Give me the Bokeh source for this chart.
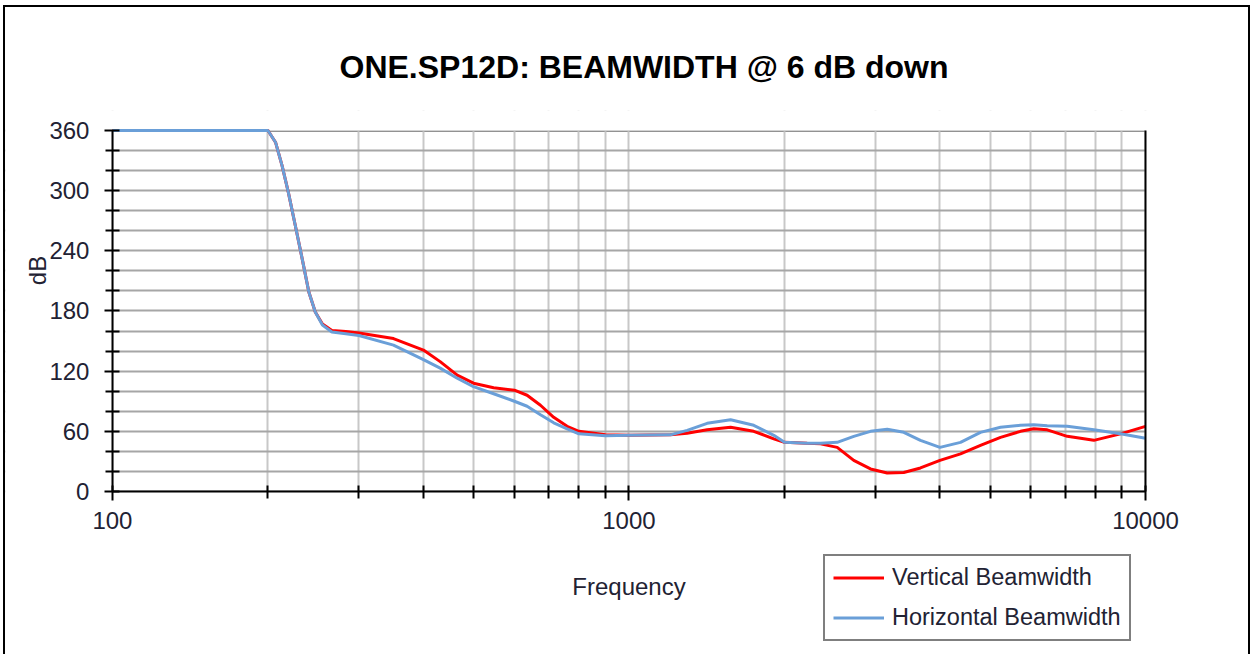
import math
from bokeh.plotting import figure
from bokeh.models import (Range1d, FixedTicker, NumeralTickFormatter, Legend,
                          LegendItem, LinearAxis, LogAxis, BoxAnnotation, Label)
from bokeh.embed import file_html
from bokeh.resources import INLINE

title_text = "ONE.SP12D: BEAMWIDTH @ 6 dB down"
x_label = "Frequency"
y_label = "dB"

freq = [100, 150, 200, 207, 213, 219, 226, 233, 240, 247, 255, 266, 283, 300,
        350, 400, 431, 465, 500, 547, 600, 635, 674, 715, 759, 800, 900, 1000,
        1203, 1296, 1417, 1573, 1744, 1907, 2000, 2213, 2349, 2530, 2724, 2935,
        3162, 3404, 3667, 4000, 4384, 4792, 5240, 5728, 6076, 6452, 7055, 7941,
        8945, 10000]
vertical = [360, 360, 360, 348, 325, 298.5, 265, 232, 199, 179, 167, 160.5,
            159.5, 158, 152.5, 141, 129.5, 116, 108, 103.5, 101, 96, 86, 74,
            65, 60, 56.5, 56, 56.5, 58, 61.5, 64, 60, 52.5, 49, 48, 47.5, 44,
            31, 22.5, 18.5, 19, 23.5, 31, 37.5, 46, 54, 60, 62.5, 61.5, 55, 51,
            57.5, 65]
horizontal = [360, 360, 360, 348, 325, 298.5, 265, 232, 199, 179, 166, 159,
              157.3, 155.5, 146, 131.5, 123, 113, 104.5, 97.5, 90, 85, 76.5,
              68.5, 62.5, 57.5, 55.5, 56, 56.5, 61, 68, 71.5, 66, 56, 49, 48,
              48, 49, 55, 60, 62, 59, 51, 44, 49, 59, 64, 66, 66.5, 65.5, 65,
              61.5, 57.5, 53]

x_major = [100, 1000, 10000]
x_minor = [m * d for d in (100, 1000) for m in range(2, 10)]
y_major = [0, 60, 120, 180, 240, 300, 360]
y_minor = [v for v in range(20, 360, 20) if v % 60 != 0]
x_min, x_max = 100, 10000
y_min, y_max = 0, 360

FONT = "Liberation Sans"
TXT = "#222233"

# The frame spans the canvas below the title so that tick labels, the legend
# and the "dB" label (all inside the frame) are not clipped; the axes are
# pinned to the data edges of the plot area.
p = figure(width=1243, height=647, x_axis_type="log",
           x_range=Range1d(62.08, 15827), y_range=Range1d(-162.55, 379.94),
           output_backend="svg", toolbar_location=None,
           min_border_left=0, min_border_right=0,
           min_border_top=103, min_border_bottom=0,
           frame_width=1243, frame_height=544)
p.styles = {"border-left": "2px solid black", "border-top": "2px solid black",
            "border-right": "2px solid black", "margin-left": "3px",
            "margin-top": "5px"}

p.title.text = title_text
p.title.align = "left"
p.title.offset = 334
p.title.standoff = 52
p.title.vertical_align = "bottom"
p.title.text_font = FONT
p.title.text_font_size = "32px"
p.title.text_font_style = "bold"
p.title.text_color = "black"

p.outline_line_color = None

# grids
p.xgrid.ticker = FixedTicker(ticks=x_major, minor_ticks=x_minor)
p.xgrid.grid_line_color = "#c8c8c8"
p.xgrid.grid_line_width = 2
p.xgrid.minor_grid_line_color = "#c8c8c8"
p.xgrid.minor_grid_line_width = 2
p.ygrid.ticker = FixedTicker(ticks=y_major, minor_ticks=y_minor)
p.ygrid.grid_line_color = "#a6a6a6"
p.ygrid.grid_line_width = 2
p.ygrid.minor_grid_line_color = "#a6a6a6"
p.ygrid.minor_grid_line_width = 2

# white masks outside the plot area (hide grid lines there)
for kw in (dict(top=y_min), dict(bottom=y_max), dict(right=x_min),
           dict(left=x_max)):
    p.add_layout(BoxAnnotation(fill_color="white", fill_alpha=1,
                               line_color=None, level="underlay", **kw))

# x axis
xa = p.xaxis[0]
xa.fixed_location = y_min
xa.bounds = (x_min, x_max)
xa.ticker = FixedTicker(ticks=x_major, minor_ticks=x_minor)
xa.formatter = NumeralTickFormatter(format="0")
xa.axis_line_width = 2
xa.major_tick_line_width = 2
xa.minor_tick_line_width = 2
xa.major_tick_in = 6
xa.major_tick_out = 9
xa.minor_tick_in = 6
xa.minor_tick_out = 7
xa.major_label_standoff = 12
xa.major_label_text_font = FONT
xa.major_label_text_font_size = "24px"
xa.major_label_text_color = TXT
xa.axis_label = x_label
xa.axis_label_text_font = FONT
xa.axis_label_text_font_size = "24px"
xa.axis_label_text_font_style = "normal"
xa.axis_label_text_color = TXT
xa.axis_label_standoff = 40

# y axis
ya = p.yaxis[0]
ya.fixed_location = x_min
ya.bounds = (y_min, y_max)
ya.ticker = FixedTicker(ticks=y_major, minor_ticks=y_minor)
ya.axis_line_width = 2
ya.major_tick_line_width = 2
ya.minor_tick_line_width = 2
ya.major_tick_in = 7
ya.major_tick_out = 8
ya.minor_tick_in = 7
ya.minor_tick_out = 7
ya.major_label_standoff = 15
ya.major_label_text_font = FONT
ya.major_label_text_font_size = "24px"
ya.major_label_text_color = TXT

# top and right borders of the plot area (drawn beneath the curves)
top_axis = LogAxis(fixed_location=y_max, bounds=(x_min, x_max),
                   ticker=FixedTicker(ticks=[]), level="underlay",
                   axis_line_color="black", axis_line_width=2,
                   major_tick_line_color=None, minor_tick_line_color=None,
                   major_label_text_font_size="0px")
p.add_layout(top_axis, "above")
r_axis = LinearAxis(fixed_location=x_max, bounds=(y_min, y_max),
                    ticker=FixedTicker(ticks=[]),
                    axis_line_color="black", axis_line_width=2,
                    major_tick_line_color=None, minor_tick_line_color=None,
                    major_label_text_font_size="0px")
p.add_layout(r_axis, "right")

# "dB" axis title, placed where the reference has it
p.add_layout(Label(x=71.6, y=220.4, text=y_label, angle=math.pi / 2,
                   text_align="center", text_baseline="middle",
                   text_font=FONT, text_font_size="24px", text_color=TXT))

r_v = p.line(freq, vertical, line_color="#ff0000", line_width=3)
r_h = p.line(freq, horizontal, line_color="#6a9fd8", line_width=3)

legend = Legend(items=[LegendItem(label="Vertical Beamwidth", renderers=[r_v]),
                       LegendItem(label="Horizontal Beamwidth", renderers=[r_h])],
                location=(818, 13), orientation="vertical")
legend.border_line_color = "black"
legend.border_line_width = 2
legend.background_fill_alpha = 1
legend.padding = 8
legend.margin = 0
legend.spacing = 13
legend.glyph_width = 51
legend.glyph_height = 27
legend.label_height = 27
legend.label_standoff = 8
legend.label_text_font = FONT
legend.label_text_font_size = "23.5px"
legend.label_text_color = TXT
p.add_layout(legend, "center")

open("out.html", "w").write(file_html(p, INLINE))
